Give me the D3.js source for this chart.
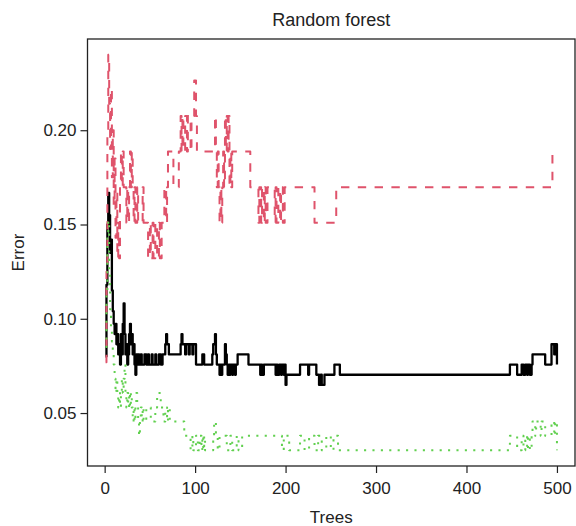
<!DOCTYPE html>
<html><head><meta charset="utf-8">
<script src="https://cdn.jsdelivr.net/npm/d3@7/dist/d3.min.js"></script>
<style>
body{margin:0;background:#fff}
text{font-family:"Liberation Sans",Arial,Helvetica,sans-serif;fill:#222}
</style>
</head><body>
<svg id="chart" width="576" height="526"></svg>
<script>
// ---- data: change points (tree number where the error value changes) ----
const oobTree = [
 1,2,3,4,5,6,7,8,9,10,11,12,13,14,15,16,17,18,19,20,
 21,22,23,24,25,26,27,28,29,30,31,32,33,34,35,36,37,
 38,40,41,44,46,48,49,52,53,56,57,60,62,64,
 67,68,69,71,84,85,86,89,90,93,94,97,98,
 101,108,110,119,120,122,123,124,127,128,129,130,133,134,135,136,137,138,139,
 141,142,144,145,147,159,172,173,174,176,189,190,191,193,195,196,198,199,
 200,201,216,225,226,234,237,239,240,243,254,260,
 448,456,461,463,465,467,468,470,472,473,487,494,497,498,500];
const oobErr = [
 0.080,0.118,0.150,0.1667,0.155,0.135,0.142,0.115,0.104,0.0973,0.0919,0.0973,0.0865,0.0919,0.0811,0.0865,0.0757,0.0919,0.0811,0.0973,
 0.1081,0.0919,0.0811,0.0865,0.0757,0.0811,0.0919,0.0973,0.0865,0.0919,0.0811,0.0865,0.0757,0.0703,0.0811,0.0757,0.0811,
 0.0757,0.0811,0.0757,0.0811,0.0757,0.0811,0.0757,0.0811,0.0757,0.0811,0.0757,0.0811,0.0757,0.0811,
 0.0865,0.0919,0.0865,0.0811,0.0865,0.0919,0.0865,0.0811,0.0865,0.0811,0.0865,0.0811,0.0865,
 0.0757,0.0811,0.0757,0.0811,0.0865,0.0919,0.0811,0.0757,0.0703,0.0757,0.0703,0.0757,0.0865,0.0811,0.0757,0.0703,0.0757,0.0703,0.0757,
 0.0703,0.0757,0.0703,0.0757,0.0811,0.0757,0.0703,0.0757,0.0703,0.0757,0.0703,0.0757,0.0703,0.0757,0.0703,0.0757,0.0703,0.0757,
 0.0649,0.0703,0.0757,0.0703,0.0757,0.0703,0.0649,0.0703,0.0649,0.0703,0.0757,0.0703,
 0.0757,0.0703,0.0757,0.0703,0.0757,0.0703,0.0757,0.0703,0.0757,0.0811,0.0757,0.0865,0.0811,0.0865,0.0757];

const class1Tree = [
 1,2,3,4,5,6,7,8,9,10,11,12,13,14,15,16,17,18,19,20,21,
 24,25,26,27,28,29,30,31,32,33,34,
 36,37,42,43,
 48,50,51,53,54,56,58,60,61,63,
 66,68,69,70,76,
 82,84,85,86,87,89,91,92,95,96,99,101,102,
 122,123,124,125,126,127,128,129,130,131,132,133,134,135,136,137,138,139,140,141,
 161,
 170,171,173,174,176,177,178,180,
 188,189,190,192,194,195,197,199,
 232,256,495,500];
const class1Err = [
 0.077,0.125,0.200,0.240,0.214,0.190,0.222,0.175,0.200,0.160,0.185,0.143,0.167,0.1321,0.1509,0.1321,0.1698,0.1887,0.1698,0.1887,0.1698,
 0.1509,0.1698,0.1509,0.1698,0.1887,0.1698,0.1887,0.1698,0.1509,0.1698,0.1509,
 0.1698,0.1509,0.1698,0.1509,
 0.1321,0.1509,0.1321,0.1509,0.1321,0.1509,0.1321,0.1509,0.1321,0.1509,
 0.1698,0.1509,0.1698,0.1887,0.1698,
 0.1887,0.2075,0.1887,0.2075,0.1887,0.2075,0.1887,0.2075,0.1887,0.2075,0.2264,0.2075,0.1887,
 0.2075,0.1887,0.1698,0.1887,0.1698,0.1509,0.1698,0.1509,0.1698,0.1887,0.1698,0.2075,0.1887,0.2075,0.1887,0.2075,0.1698,0.1887,0.1698,0.1887,
 0.1698,
 0.1509,0.1698,0.1509,0.1698,0.1509,0.1698,0.1509,0.1698,
 0.1509,0.1698,0.1509,0.1698,0.1509,0.1698,0.1509,0.1698,
 0.1509,0.1698,0.1887,0.1887];

const class2Tree = [
 1,2,3,4,5,6,7,8,9,10,11,12,13,14,15,16,17,18,19,20,
 21,22,23,24,25,26,27,28,29,30,31,32,33,34,35,36,37,38,39,40,
 41,42,43,46,51,56,58,62,65,67,69,70,72,88,95,97,98,
 101,103,105,107,108,109,110,111,120,121,123,125,127,135,139,141,146,148,152,
 196,198,204,216,221,226,232,236,240,245,250,253,258,
 448,456,461,463,465,467,468,470,472,473,476,477,482,483,487,494,497,498,500];
const class2Err = [
 0.085,0.115,0.145,0.152,0.125,0.105,0.095,0.088,0.0833,0.0758,0.0682,0.0606,0.0682,0.0606,0.0530,0.0606,0.0530,0.0606,0.0682,0.0606,
 0.0682,0.0758,0.0606,0.0530,0.0606,0.0530,0.0606,0.0530,0.0606,0.0530,0.0455,0.0530,0.0455,0.0530,0.0606,0.0530,0.0455,0.0379,0.0455,0.0530,
 0.0455,0.0530,0.0455,0.0530,0.0455,0.0530,0.0606,0.0530,0.0455,0.0530,0.0455,0.0530,0.0455,0.0379,0.0303,0.0379,0.0303,
 0.0379,0.0303,0.0379,0.0303,0.0379,0.0303,0.0379,0.0303,0.0379,0.0455,0.0379,0.0303,0.0379,0.0303,0.0379,0.0303,0.0379,0.0303,0.0379,
 0.0303,0.0379,0.0303,0.0379,0.0303,0.0379,0.0303,0.0379,0.0303,0.0379,0.0303,0.0379,0.0303,
 0.0379,0.0303,0.0379,0.0303,0.0379,0.0303,0.0379,0.0303,0.0379,0.0455,0.0379,0.0455,0.0379,0.0455,0.0379,0.0455,0.0379,0.0455,0.0303];

const xTicks = [0, 100, 200, 300, 400, 500];
const yTicks = [0.05, 0.10, 0.15, 0.20];
const seriesNames = ["OOB", "1", "2"];
const seriesColors = ["#000000", "#DF536B", "#61D04F"];
const seriesDash = [null, "8.4,8.4", "2.1,6.3"];
const titleText = "Random forest";
const xLabel = "Trees";
const yLabel = "Error";

// ---- layout ----
const plot = {left: 87.5, right: 575, top: 39, bottom: 466};
const svg = d3.select("#chart");
const FS = 17;

const series = [
  {tree: oobTree, err: oobErr},
  {tree: class1Tree, err: class1Err},
  {tree: class2Tree, err: class2Err}
];
const allErr = oobErr.concat(class1Err, class2Err);
const yExt = d3.extent(allErr);
const xExt = [1, 500];
const pad = (e) => { const d = (e[1] - e[0]) * 0.04; return [e[0] - d, e[1] + d]; };

const x = d3.scaleLinear().domain(pad(xExt)).range([plot.left, plot.right]);
const y = d3.scaleLinear().domain(pad(yExt)).range([plot.bottom, plot.top]);

// series lines
series.forEach((s, i) => {
  const pts = s.tree.map((t, j) => [t, s.err[j]]);
  const line = d3.line().x(d => x(d[0])).y(d => y(d[1])).curve(d3.curveStepAfter);
  const p = svg.append("path")
    .attr("d", line(pts))
    .attr("fill", "none")
    .attr("stroke", seriesColors[i])
    .attr("stroke-width", i === 0 ? 2.3 : 2)
    .attr("stroke-linejoin", "round")
    .attr("data-name", seriesNames[i]);
  if (seriesDash[i]) p.attr("stroke-dasharray", seriesDash[i]);
});

// box
svg.append("rect")
  .attr("x", plot.left).attr("y", plot.top)
  .attr("width", plot.right - plot.left).attr("height", plot.bottom - plot.top)
  .attr("fill", "none").attr("stroke", "#222").attr("stroke-width", 1.3);

// axes
const xAxis = d3.axisBottom(x).tickValues(xTicks).tickSize(7).tickPadding(9).tickFormat(d3.format("d"));
const gx = svg.append("g").attr("transform", `translate(0,${plot.bottom})`).call(xAxis);
gx.select(".domain").remove();
gx.selectAll(".tick line").attr("stroke", "#222").attr("stroke-width", 1.2);
gx.selectAll(".tick text").attr("font-size", FS).style("fill", "#222");

const yAxis = d3.axisLeft(y).tickValues(yTicks).tickSize(7).tickPadding(4).tickFormat(d3.format(".2f"));
const gy = svg.append("g").attr("transform", `translate(${plot.left},0)`).call(yAxis);
gy.select(".domain").remove();
gy.selectAll(".tick line").attr("stroke", "#222").attr("stroke-width", 1.2);
gy.selectAll(".tick text").attr("font-size", FS).style("fill", "#222");

svg.selectAll("g text").attr("font-family", '"Liberation Sans",Arial,sans-serif');

// titles
svg.append("text").attr("x", (plot.left + plot.right) / 2).attr("y", 26)
  .attr("text-anchor", "middle").attr("font-size", 18).text(titleText);
svg.append("text").attr("x", (plot.left + plot.right) / 2).attr("y", 523)
  .attr("text-anchor", "middle").attr("font-size", FS).text(xLabel);
svg.append("text").attr("transform", `translate(24,${(plot.top + plot.bottom) / 2}) rotate(-90)`)
  .attr("text-anchor", "middle").attr("font-size", FS).text(yLabel);
</script>
</body></html>
